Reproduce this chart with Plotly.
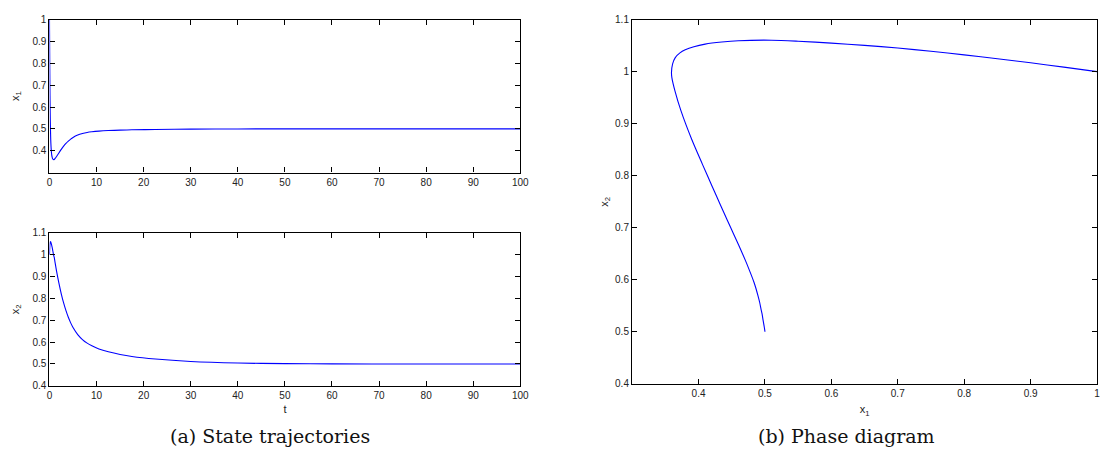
import plotly.graph_objects as go

# ---- data ----
t = [0, 0.012, 0.025, 0.04, 0.055, 0.072, 0.09, 0.11, 0.135, 0.165,
     0.2, 0.25, 0.29, 0.35, 0.41, 0.48, 0.55, 0.63, 0.73, 0.87,
     1.0, 1.2, 1.5, 2, 2.5, 3, 3.5, 4, 4.5, 5,
     6, 7, 8, 9, 10.5, 12.5, 15, 17.5, 22.5, 30,
     40, 50, 60, 75, 100]
x1 = [1.0, 0.95, 0.9, 0.85, 0.8, 0.75, 0.7, 0.65, 0.6, 0.55,
      0.51, 0.46, 0.435, 0.41, 0.393, 0.38, 0.372, 0.365, 0.361, 0.3593,
      0.3598, 0.3646, 0.3735, 0.3897, 0.4061, 0.4206, 0.433, 0.4437, 0.4528, 0.4604,
      0.4715, 0.4786, 0.4835, 0.4865, 0.4896, 0.4922, 0.4941, 0.4957, 0.4972, 0.4987,
      0.4996, 0.4999, 0.5, 0.5, 0.5]
x2 = [1.0, 1.0087, 1.017, 1.0248, 1.0322, 1.0392, 1.0455, 1.0505, 1.0548, 1.0585,
      1.0605, 1.0595, 1.057, 1.053, 1.048, 1.042, 1.036, 1.027, 1.015, 0.9985,
      0.989, 0.9625, 0.925, 0.870, 0.8214, 0.7794, 0.7439, 0.7136, 0.6881, 0.6668,
      0.6345, 0.6118, 0.5953, 0.5833, 0.569, 0.5559, 0.5436, 0.5344, 0.5225, 0.5114,
      0.5042, 0.5015, 0.5005, 0.5001, 0.5]

t_ticks = [0, 10, 20, 30, 40, 50, 60, 70, 80, 90, 100]
x1_ticks_a = [0.4, 0.5, 0.6, 0.7, 0.8, 0.9, 1]
x2_ticks = [0.4, 0.5, 0.6, 0.7, 0.8, 0.9, 1, 1.1]
x1_ticks_b = [0.4, 0.5, 0.6, 0.7, 0.8, 0.9, 1]
captions = ["(a) State trajectories", "(b) Phase diagram"]

W, H = 1107, 460
def px(a, b):
    return [a / W, b / W]
def py(top, bottom):
    return [1 - bottom / H, 1 - top / H]

line = dict(color="#0000ff", width=1.1, shape="spline", smoothing=0.8)
fig = go.Figure()
fig.add_trace(go.Scatter(x=t, y=x1, mode="lines", line=line, xaxis="x", yaxis="y"))
fig.add_trace(go.Scatter(x=t, y=x2, mode="lines", line=line, xaxis="x2", yaxis="y2"))
fig.add_trace(go.Scatter(x=x1, y=x2, mode="lines", line=line, xaxis="x3", yaxis="y3"))

tickfont = dict(family="Liberation Sans, Arial", size=10, color="#222")
ax = dict(showline=True, linecolor="black", linewidth=1.3, mirror="ticks",
          ticks="inside", ticklen=5, tickcolor="black", tickwidth=1,
          showgrid=False, zeroline=False, tickfont=tickfont, fixedrange=True)
titlefont = dict(family="Liberation Sans, Arial", size=11, color="#222")

fig.update_layout(
    width=W, height=H, margin=dict(l=0, r=0, t=0, b=0),
    paper_bgcolor="white", plot_bgcolor="white", showlegend=False,
    xaxis=dict(ax, domain=px(47, 523), range=[0, 100], tickvals=t_ticks, anchor="y"),
    yaxis=dict(ax, domain=py(14, 171), range=[0.3, 1], tickvals=x1_ticks_a, anchor="x",
               title=dict(text="x<sub>1</sub>", font=titlefont, standoff=10)),
    xaxis2=dict(ax, domain=px(47, 523), range=[0, 100], tickvals=t_ticks, anchor="y2",
                title=dict(text="t", font=titlefont, standoff=5)),
    yaxis2=dict(ax, domain=py(233, 390), range=[0.4, 1.1], tickvals=x2_ticks, anchor="x2",
                title=dict(text="x<sub>2</sub>", font=titlefont, standoff=10)),
    xaxis3=dict(ax, domain=px(636, 1106), range=[0.3, 1.0], tickvals=x1_ticks_b, anchor="y3",
                title=dict(text="x<sub>1</sub>", font=titlefont, standoff=7)),
    yaxis3=dict(ax, domain=py(14, 388), range=[0.4, 1.1], tickvals=x2_ticks, anchor="x3",
                title=dict(text="x<sub>2</sub>", font=titlefont, standoff=4)),
)

capfont = dict(family="DejaVu Serif, Liberation Serif", size=19, color="#111")
fig.add_annotation(text=captions[0], x=270 / W, y=1 - 442 / H, xref="paper", yref="paper",
                   showarrow=False, font=capfont, xanchor="center", yanchor="middle")
fig.add_annotation(text=captions[1], x=853 / W, y=1 - 442 / H, xref="paper", yref="paper",
                   showarrow=False, font=capfont, xanchor="center", yanchor="middle")

fig.write_html("out.html")
